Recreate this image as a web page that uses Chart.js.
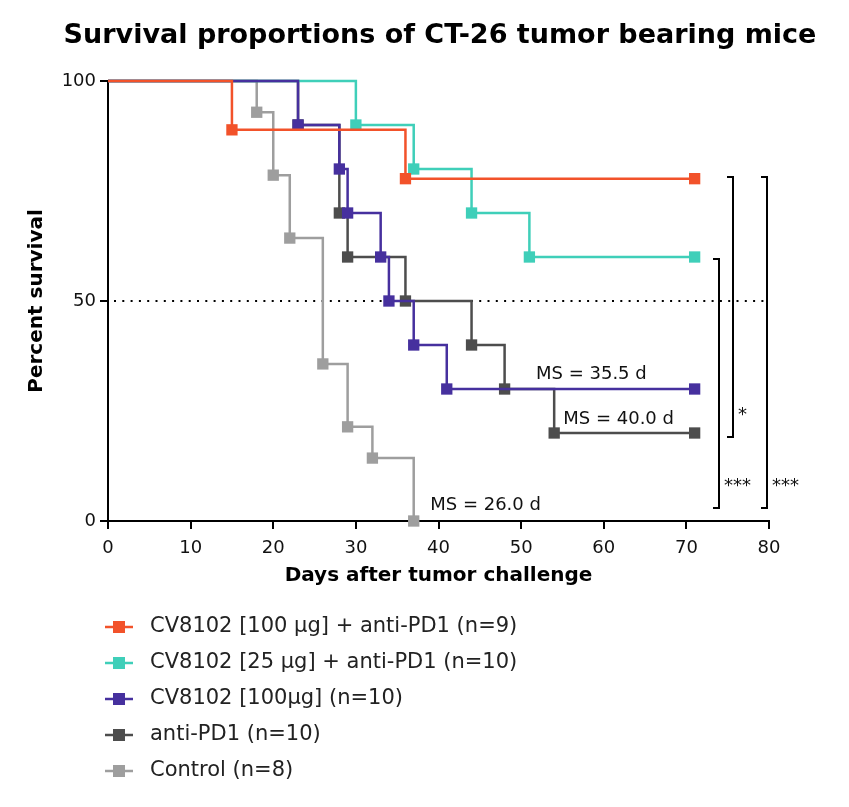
<!DOCTYPE html>
<html>
<head>
<meta charset="utf-8">
<script src="https://cdn.jsdelivr.net/npm/chart.js@4.4.0/dist/chart.umd.min.js"></script>
<style>
html, body { margin: 0; padding: 0; background: #fff; }
</style>
</head>
<body>
<canvas id="myChart" width="849" height="807"></canvas>
<script>
// groups, in legend order
const groupLabels = [
    'CV8102 [100 µg] + anti-PD1 (n=9)',
    'CV8102 [25 µg] + anti-PD1 (n=10)',
    'CV8102 [100µg] (n=10)',
    'anti-PD1 (n=10)',
    'Control (n=8)'
];
const groupColors = ['#f2522a', '#3fcfb9', '#46309e', '#4d4d4d', '#9e9e9e'];
const drawOrder = [0, 2, 1, 3, 4];

// Kaplan-Meier steps: day of event and survival (%) after it
const daysOrange = [0, 15, 36, 71];
const survOrange = [100, 88.9, 77.8, 77.8];
const daysTeal = [0, 30, 37, 44, 51, 71];
const survTeal = [100, 90, 80, 70, 60, 60];
const daysPurple = [0, 23, 28, 29, 33, 34, 37, 41, 71];
const survPurple = [100, 90, 80, 70, 60, 50, 40, 30, 30];
const daysAnti = [0, 23, 28, 29, 36, 44, 48, 54, 71];
const survAnti = [100, 90, 70, 60, 50, 40, 30, 20, 20];
const daysControl = [0, 18, 20, 22, 26, 29, 32, 37];
const survControl = [100, 92.9, 78.6, 64.3, 35.7, 21.4, 14.3, 0];

const xTicks = [0, 10, 20, 30, 40, 50, 60, 70, 80];
const yTicks = [0, 50, 100];

const chartTitle = 'Survival proportions of CT-26 tumor bearing mice';
const medianNotes = [
    { text: 'MS = 35.5 d', x: 51.8, y: 33.3 },
    { text: 'MS = 40.0 d', x: 55.1, y: 23.1 },
    { text: 'MS = 26.0 d', x: 39, y: 3.6 }
];
// significance brackets: x, y from, y to, mark
const brackets = [
    { x: 73.95, y1: 59.6, y2: 2.9, mark: '***' },
    { x: 75.65, y1: 78.2, y2: 19.1, mark: '*' },
    { x: 79.75, y1: 78.2, y2: 2.9, mark: '***' }
];

const allDays = [daysOrange, daysTeal, daysPurple, daysAnti, daysControl];
const allSurv = [survOrange, survTeal, survPurple, survAnti, survControl];

const FONT = 'DejaVu Sans, Verdana, sans-serif';

const datasets = groupLabels.map((label, i) => ({
    label: label,
    data: allDays[i].map((d, j) => ({ x: d, y: allSurv[i][j] })),
    borderColor: groupColors[i],
    backgroundColor: groupColors[i],
    borderWidth: 2.5,
    stepped: true,
    pointStyle: 'rect',
    pointRadius: allDays[i].map((d, j) => j === 0 ? 0 : 8),
    pointBorderWidth: 0,
    order: drawOrder[i],
    clip: false
}));

const extras = {
    id: 'extras',
    beforeDatasetsDraw(chart) {
        const ctx = chart.ctx;
        const a = chart.chartArea;
        const yS = chart.scales.y;
        // 50% dotted line
        ctx.save();
        ctx.strokeStyle = '#000';
        ctx.lineWidth = 2;
        ctx.setLineDash([2, 6.3]);
        const y50 = Math.round(yS.getPixelForValue(50));
        ctx.beginPath();
        ctx.moveTo(a.left + 6, y50);
        ctx.lineTo(a.right, y50);
        ctx.stroke();
        ctx.restore();
    },
    afterDraw(chart) {
        const ctx = chart.ctx;
        const xS = chart.scales.x;
        const yS = chart.scales.y;
        ctx.save();
        // title
        ctx.fillStyle = '#000';
        ctx.font = 'bold 27px ' + FONT;
        ctx.textAlign = 'center';
        ctx.textBaseline = 'middle';
        ctx.fillText(chartTitle, 440, 36);

        ctx.fillStyle = '#111';
        ctx.font = '18px ' + FONT;
        ctx.textAlign = 'left';
        medianNotes.forEach(n => {
            ctx.fillText(n.text, xS.getPixelForValue(n.x), yS.getPixelForValue(n.y));
        });
        // brackets
        ctx.strokeStyle = '#000';
        ctx.lineWidth = 2;
        brackets.forEach(b => {
            const x = Math.round(xS.getPixelForValue(b.x));
            const y1 = Math.round(yS.getPixelForValue(b.y1));
            const y2 = Math.round(yS.getPixelForValue(b.y2));
            ctx.beginPath();
            ctx.moveTo(x - 6, y1);
            ctx.lineTo(x, y1);
            ctx.lineTo(x, y2);
            ctx.lineTo(x - 6, y2);
            ctx.stroke();
            ctx.font = '18px ' + FONT;
            ctx.fillText(b.mark, x + 5, y2 - 22);
        });
        // legend
        const lx = 105, ly = 627, step = 36;
        groupLabels.forEach((label, i) => {
            const y = ly + i * step;
            ctx.strokeStyle = groupColors[i];
            ctx.fillStyle = groupColors[i];
            ctx.lineWidth = 2.5;
            ctx.beginPath();
            ctx.moveTo(lx, y);
            ctx.lineTo(lx + 28, y);
            ctx.stroke();
            ctx.fillRect(lx + 14 - 6, y - 6, 12, 12);
            ctx.fillStyle = '#222';
            ctx.font = '21px ' + FONT;
            ctx.fillText(label, 150, y);
        });
        ctx.restore();
    }
};

const ctx = document.getElementById('myChart').getContext('2d');
const myChart = new Chart(ctx, {
    type: 'line',
    data: { datasets: datasets },
    options: {
        responsive: false,
        maintainAspectRatio: false,
        animation: false,
        layout: { padding: { left: 0, right: 80, top: 81, bottom: 216 } },
        plugins: {
            legend: { display: false },
            tooltip: { enabled: false },
            title: { display: false }
        },
        scales: {
            x: {
                type: 'linear',
                min: 0,
                max: 80,
                afterFit: s => { s.height = 70; },
                afterBuildTicks: s => { s.ticks = xTicks.map(v => ({ value: v })); },
                border: { color: '#000', width: 2 },
                grid: { drawOnChartArea: false, color: '#000', lineWidth: 2, tickLength: 8 },
                ticks: { color: '#111', font: { family: FONT, size: 18 }, padding: 9 },
                title: {
                    display: true,
                    text: 'Days after tumor challenge',
                    color: '#000',
                    font: { family: FONT, size: 20, weight: 'bold' },
                    padding: { top: 0, bottom: 3 }
                }
            },
            y: {
                type: 'linear',
                min: 0,
                max: 100,
                afterFit: s => { s.width = 108; },
                afterBuildTicks: s => { s.ticks = yTicks.map(v => ({ value: v })); },
                border: { color: '#000', width: 2 },
                grid: { drawOnChartArea: false, color: '#000', lineWidth: 2, tickLength: 8 },
                ticks: { color: '#111', font: { family: FONT, size: 18 }, padding: 4 },
                title: {
                    display: true,
                    text: 'Percent survival',
                    color: '#000',
                    font: { family: FONT, size: 20, weight: 'bold' },
                    padding: { top: 25, bottom: 0 }
                }
            }
        }
    },
    plugins: [extras]
});
</script>
</body>
</html>
